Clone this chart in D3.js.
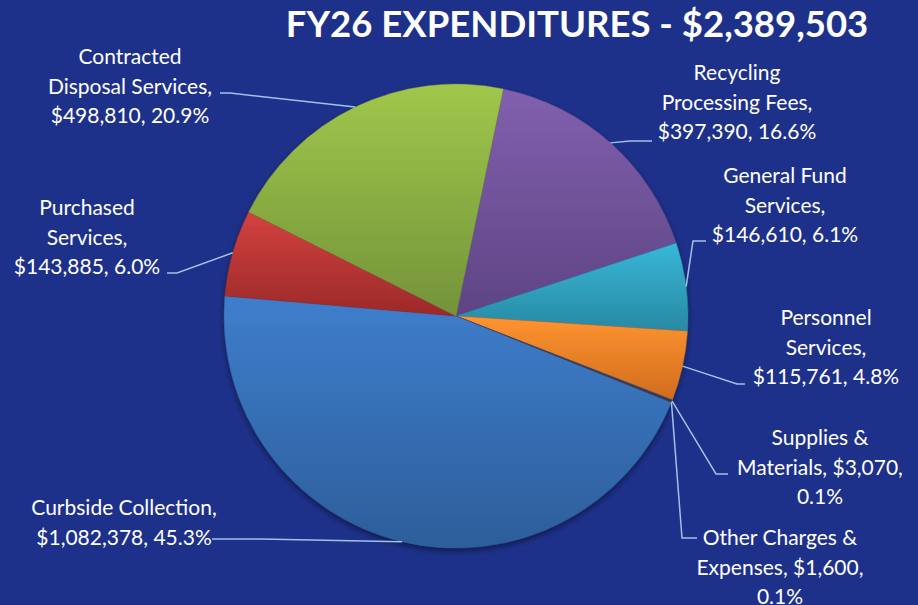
<!DOCTYPE html>
<html>
<head>
<meta charset="utf-8">
<script src="https://cdn.jsdelivr.net/npm/d3@7"></script>
<style>
  html, body { margin: 0; padding: 0; background: #1E318A; }
  svg { display: block; }
</style>
</head>
<body>
<div id="chart"></div>
<script>
// Chart data (clockwise from the green/purple edge near 12 o'clock)
const categories = ["Recycling Processing Fees", "General Fund Services", "Personnel Services",
    "Supplies & Materials", "Other Charges & Expenses", "Curbside Collection",
    "Purchased Services", "Contracted Disposal Services"];
const values = [397390, 146610, 115761, 3070, 1600, 1082378, 143885, 498810];
const titleText = "FY26 EXPENDITURES - $2,389,503";

// Slice colours: [top, bottom] of each gradient
const colors = [["#8160AE", "#5E4484"], ["#38B7D8", "#2889A3"], ["#FF9430", "#D06C1E"],
    ["#2F5A92", "#23446F"], ["#8A3330", "#6A2422"], ["#3E7ECC", "#2D5E9B"],
    ["#D3423F", "#9C2929"], ["#A0C74B", "#74933A"]];

// How many words go on each label line
const wordBreaks = [[1, 2, 2], [2, 1, 2], [1, 1, 2], [2, 2, 1], [3, 2, 1], [2, 2], [1, 1, 2], [1, 2, 2]];

// Label placement: text centre / first baseline, elbow point, end of leader
const labelPos = [
    {tx: 737, ty: 80,  ex: 630, ey: 141, lx: 652},
    {tx: 785, ty: 183, ex: 693, ey: 241, lx: 706},
    {tx: 826, ty: 325, ex: 737, ey: 384, lx: 745},
    {tx: 820, ty: 445, ex: 716, ey: 474, lx: 728},
    {tx: 780, ty: 545, ex: 682, ey: 538, lx: 697},
    {tx: 124, ty: 515, ex: 260, ey: 539, lx: 212},
    {tx: 87,  ty: 215, ex: 177, ey: 273, lx: 167},
    {tx: 130, ty: 64,  ex: 230, ey: 93,  lx: 220}
];

const width = 918, height = 605;
const cx = 456, cy = 316, radius = 232;
const firstAngle = 11.8 * Math.PI / 180;
const total = d3.sum(values);
const fmtMoney = d3.format("$,");
const fmtPct = d3.format(".1%");

const data = categories.map((c, i) => ({name: c, value: values[i], i: i}));

const svg = d3.select("#chart").append("svg")
    .attr("width", width)
    .attr("height", height);

svg.append("rect").attr("width", width).attr("height", height).attr("fill", "#1E318A");

const defs = svg.append("defs");
data.forEach(d => {
    const g = defs.append("linearGradient")
        .attr("id", "grad" + d.i)
        .attr("x1", 0).attr("y1", 0).attr("x2", 0).attr("y2", 1);
    g.append("stop").attr("offset", "0%").attr("stop-color", colors[d.i][0]);
    g.append("stop").attr("offset", "100%").attr("stop-color", colors[d.i][1]);
});
const shadow = defs.append("filter").attr("id", "shadow")
    .attr("x", "-20%").attr("y", "-20%").attr("width", "140%").attr("height", "140%");
shadow.append("feDropShadow")
    .attr("dx", 0).attr("dy", 3).attr("stdDeviation", 3)
    .attr("flood-color", "#000").attr("flood-opacity", 0.45);

const pie = d3.pie()
    .sort(null)
    .value(d => d.value)
    .startAngle(firstAngle)
    .endAngle(firstAngle + 2 * Math.PI);

const arc = d3.arc().innerRadius(0).outerRadius(radius);
const arcs = pie(data);

const pieG = svg.append("g")
    .attr("transform", `translate(${cx},${cy})`)
    .attr("filter", "url(#shadow)");

pieG.selectAll("path")
    .data(arcs)
    .enter()
    .append("path")
    .attr("d", arc)
    .attr("fill", d => `url(#grad${d.data.i})`)
    .attr("stroke", d => colors[d.data.i][1])
    .attr("stroke-width", 0.4);

// Leader lines
const edgePoint = d => {
    const a = (d.startAngle + d.endAngle) / 2;
    return [cx + radius * Math.sin(a), cy - radius * Math.cos(a)];
};

svg.append("g").selectAll("polyline")
    .data(arcs)
    .enter()
    .append("polyline")
    .attr("points", d => {
        const p = labelPos[d.data.i];
        return [edgePoint(d), [p.ex, p.ey], [p.lx, p.ey]].map(q => q.join(",")).join(" ");
    })
    .attr("fill", "none")
    .attr("stroke", "#9DC3E6")
    .attr("stroke-width", 1.5);

// Labels
const labels = svg.append("g")
    .attr("font-family", "Lato, 'Open Sans', sans-serif")
    .attr("font-size", 21)
    .attr("fill", "#FFFFFF")
    .attr("text-anchor", "middle");

data.forEach(d => {
    const words = `${d.name}, ${fmtMoney(d.value)}, ${fmtPct(d.value / total)}`.split(" ");
    const lines = [];
    let k = 0;
    wordBreaks[d.i].forEach(n => {
        lines.push(words.slice(k, k + n).join(" "));
        k += n;
    });
    const p = labelPos[d.i];
    const t = labels.append("text").attr("x", p.tx).attr("y", p.ty);
    lines.forEach((line, j) => {
        t.append("tspan")
            .attr("x", p.tx)
            .attr("dy", j === 0 ? 0 : 29.5)
            .text(line);
    });
});

// Title
svg.append("text")
    .attr("x", 577)
    .attr("y", 37)
    .attr("text-anchor", "middle")
    .attr("font-family", "Lato, 'Open Sans', sans-serif")
    .attr("font-weight", "bold")
    .attr("font-size", 36.5)
    .attr("fill", "#FFFFFF")
    .text(titleText);
</script>
</body>
</html>
